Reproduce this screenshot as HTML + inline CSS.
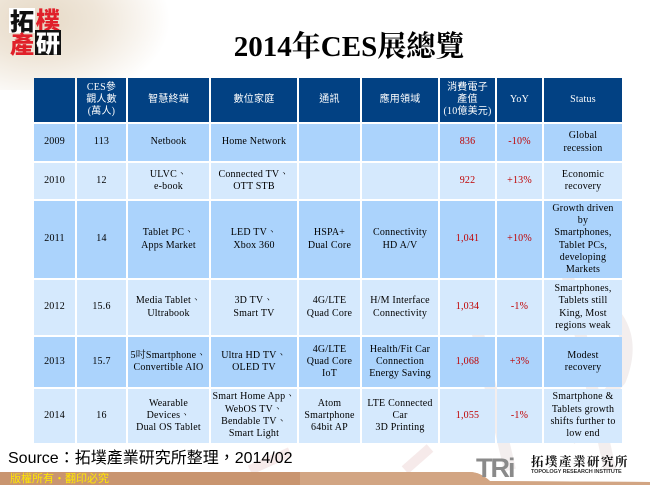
<!DOCTYPE html>
<html><head><meta charset="utf-8">
<style>
*{margin:0;padding:0;box-sizing:border-box}
html,body{width:650px;height:485px;overflow:hidden;background:#fff}
body{position:relative;font-family:"Liberation Serif","Noto Serif CJK TC",serif}
.bg{position:absolute;left:0;top:0;width:170px;height:90px;background:radial-gradient(ellipse 130px 85px at 40px 20px,#e6d9c6 0%,#efe6d9 45%,rgba(255,255,255,0) 100%)}
.title{position:absolute;left:0;width:698px;top:30px;text-align:center;font-size:29px;font-weight:bold;color:#000;line-height:34px;font-family:"Liberation Serif","Noto Serif CJK TC",serif}
.logo{position:absolute;font-family:"Noto Sans CJK TC","WenQuanYi Zen Hei",sans-serif;font-weight:900;font-size:24px;line-height:24px;width:26px;height:25px;text-align:center}
.c{position:absolute;display:flex;align-items:center;justify-content:center;text-align:center;font-size:10px;line-height:12.3px;color:#000;letter-spacing:0.2px}
.h{background:#024183;color:#fff;font-family:"Liberation Serif","Noto Sans CJK TC",serif}
.d{background:#abd3fc}
.l{background:#d5e9fd}
.r{color:#c00000}
.src{position:absolute;left:8px;top:449px;font-family:"Liberation Sans","Noto Sans CJK TC",sans-serif;font-size:16px;color:#000;line-height:20px}
.copy{position:absolute;left:10px;top:472px;font-family:"Noto Sans CJK TC",sans-serif;font-size:11px;line-height:13px;color:#ffe800}
</style></head><body>
<div class="bg"></div>
<svg style="position:absolute;left:0;top:0" width="650" height="485">
 <g stroke="#f3eeee" stroke-width="12" fill="none">
  <path d="M560 240 L610 470"/>
  <path d="M600 300 Q640 330 620 380 L570 440"/>
  <path d="M470 300 L510 470"/>
 </g>
 <g stroke="#f6eaea" stroke-width="10" fill="none">
  <path d="M250 470 L290 452"/>
  <path d="M405 470 L430 448"/>
 </g>
 <path d="M0 472 L470 472 Q480 472 490 481 L650 482 L650 485 L0 485 Z" fill="#c99570"/>
 <path d="M300 472 L470 472 Q480 472 490 481 L650 482 L650 485 L300 485 Z" fill="#d9b08f" opacity="0.6"/>
</svg>
<div class="logo" style="left:9px;top:8px;color:#111;background:#fff">拓</div>
<div class="logo" style="left:35px;top:7px;color:#e0202a">樸</div>
<div class="logo" style="left:9px;top:31px;color:#e0202a">產</div>
<div class="logo" style="left:35px;top:30px;color:#fff;background:#111">研</div>
<div class="title">2014年CES展總覽</div>

<!-- header -->
<div class="c h" style="left:34px;top:78px;width:41px;height:44px"></div>
<div class="c h" style="left:77px;top:78px;width:49px;height:44px">CES參<br>觀人數<br>(萬人)</div>
<div class="c h" style="left:128px;top:78px;width:81px;height:44px">智慧終端</div>
<div class="c h" style="left:211px;top:78px;width:86px;height:44px">數位家庭</div>
<div class="c h" style="left:299px;top:78px;width:61px;height:44px">通訊</div>
<div class="c h" style="left:362px;top:78px;width:76px;height:44px">應用領域</div>
<div class="c h" style="left:440px;top:78px;width:55px;height:44px">消費電子<br>產值<br>(10億美元)</div>
<div class="c h" style="left:497px;top:78px;width:45px;height:44px">YoY</div>
<div class="c h" style="left:544px;top:78px;width:78px;height:44px">Status</div>

<!-- 2009 -->
<div class="c d" style="left:34px;top:124px;width:41px;height:37px">2009</div>
<div class="c d" style="left:77px;top:124px;width:49px;height:37px">113</div>
<div class="c d" style="left:128px;top:124px;width:81px;height:37px">Netbook</div>
<div class="c d" style="left:211px;top:124px;width:86px;height:37px">Home Network</div>
<div class="c d" style="left:299px;top:124px;width:61px;height:37px"></div>
<div class="c d" style="left:362px;top:124px;width:76px;height:37px"></div>
<div class="c d r" style="left:440px;top:124px;width:55px;height:37px">836</div>
<div class="c d r" style="left:497px;top:124px;width:45px;height:37px">-10%</div>
<div class="c d" style="left:544px;top:124px;width:78px;height:37px">Global<br>recession</div>

<!-- 2010 -->
<div class="c l" style="left:34px;top:163px;width:41px;height:36px">2010</div>
<div class="c l" style="left:77px;top:163px;width:49px;height:36px">12</div>
<div class="c l" style="left:128px;top:163px;width:81px;height:36px">ULVC、<br>e-book</div>
<div class="c l" style="left:211px;top:163px;width:86px;height:36px">Connected TV、<br>OTT STB</div>
<div class="c l" style="left:299px;top:163px;width:61px;height:36px"></div>
<div class="c l" style="left:362px;top:163px;width:76px;height:36px"></div>
<div class="c l r" style="left:440px;top:163px;width:55px;height:36px">922</div>
<div class="c l r" style="left:497px;top:163px;width:45px;height:36px">+13%</div>
<div class="c l" style="left:544px;top:163px;width:78px;height:36px">Economic<br>recovery</div>

<!-- 2011 -->
<div class="c d" style="left:34px;top:201px;width:41px;height:77px">2011</div>
<div class="c d" style="left:77px;top:201px;width:49px;height:77px">14</div>
<div class="c d" style="left:128px;top:201px;width:81px;height:77px">Tablet PC、<br>Apps Market</div>
<div class="c d" style="left:211px;top:201px;width:86px;height:77px">LED TV、<br>Xbox 360</div>
<div class="c d" style="left:299px;top:201px;width:61px;height:77px">HSPA+<br>Dual Core</div>
<div class="c d" style="left:362px;top:201px;width:76px;height:77px">Connectivity<br>HD A/V</div>
<div class="c d r" style="left:440px;top:201px;width:55px;height:77px">1,041</div>
<div class="c d r" style="left:497px;top:201px;width:45px;height:77px">+10%</div>
<div class="c d" style="left:544px;top:201px;width:78px;height:77px">Growth driven<br>by<br>Smartphones,<br>Tablet PCs,<br>developing<br>Markets</div>

<!-- 2012 -->
<div class="c l" style="left:34px;top:280px;width:41px;height:55px">2012</div>
<div class="c l" style="left:77px;top:280px;width:49px;height:55px">15.6</div>
<div class="c l" style="left:128px;top:280px;width:81px;height:55px">Media Tablet、<br>Ultrabook</div>
<div class="c l" style="left:211px;top:280px;width:86px;height:55px">3D TV、<br>Smart TV</div>
<div class="c l" style="left:299px;top:280px;width:61px;height:55px">4G/LTE<br>Quad Core</div>
<div class="c l" style="left:362px;top:280px;width:76px;height:55px">H/M Interface<br>Connectivity</div>
<div class="c l r" style="left:440px;top:280px;width:55px;height:55px">1,034</div>
<div class="c l r" style="left:497px;top:280px;width:45px;height:55px">-1%</div>
<div class="c l" style="left:544px;top:280px;width:78px;height:55px">Smartphones,<br>Tablets still<br>King, Most<br>regions weak</div>

<!-- 2013 -->
<div class="c d" style="left:34px;top:337px;width:41px;height:50px">2013</div>
<div class="c d" style="left:77px;top:337px;width:49px;height:50px">15.7</div>
<div class="c d" style="left:128px;top:337px;width:81px;height:50px">5吋Smartphone、<br>Convertible AIO</div>
<div class="c d" style="left:211px;top:337px;width:86px;height:50px">Ultra HD TV、<br>OLED TV</div>
<div class="c d" style="left:299px;top:337px;width:61px;height:50px">4G/LTE<br>Quad Core<br>IoT</div>
<div class="c d" style="left:362px;top:337px;width:76px;height:50px">Health/Fit Car<br>Connection<br>Energy Saving</div>
<div class="c d r" style="left:440px;top:337px;width:55px;height:50px">1,068</div>
<div class="c d r" style="left:497px;top:337px;width:45px;height:50px">+3%</div>
<div class="c d" style="left:544px;top:337px;width:78px;height:50px">Modest<br>recovery</div>

<!-- 2014 -->
<div class="c l" style="left:34px;top:389px;width:41px;height:54px">2014</div>
<div class="c l" style="left:77px;top:389px;width:49px;height:54px">16</div>
<div class="c l" style="left:128px;top:389px;width:81px;height:54px">Wearable<br>Devices、<br>Dual OS Tablet</div>
<div class="c l" style="left:211px;top:389px;width:86px;height:54px">Smart Home App、<br>WebOS TV、<br>Bendable TV、<br>Smart Light</div>
<div class="c l" style="left:299px;top:389px;width:61px;height:54px">Atom<br>Smartphone<br>64bit AP</div>
<div class="c l" style="left:362px;top:389px;width:76px;height:54px">LTE Connected<br>Car<br>3D Printing</div>
<div class="c l r" style="left:440px;top:389px;width:55px;height:54px">1,055</div>
<div class="c l r" style="left:497px;top:389px;width:45px;height:54px">-1%</div>
<div class="c l" style="left:544px;top:389px;width:78px;height:54px">Smartphone &amp;<br>Tablets growth<br>shifts further to<br>low end</div>

<div class="src">Source：拓墣產業研究所整理，2014/02</div>
<div class="copy">版權所有‧翻印必究</div>

<div style="position:absolute;left:476px;top:455px;font-family:'Liberation Sans',sans-serif;font-weight:bold;font-size:27px;line-height:26px;color:#8a8a8a;letter-spacing:-2px">TRi</div>
<div style="position:absolute;left:531px;top:455px;font-family:'Noto Serif CJK TC',serif;font-weight:bold;font-size:12.5px;line-height:13px;color:#111;letter-spacing:1.5px">拓墣產業研究所</div>
<div style="position:absolute;left:531px;top:469px;font-family:'Liberation Sans',sans-serif;font-size:5.5px;line-height:7px;color:#333;font-weight:bold;letter-spacing:-0.1px">TOPOLOGY RESEARCH INSTITUTE</div>
</body></html>
